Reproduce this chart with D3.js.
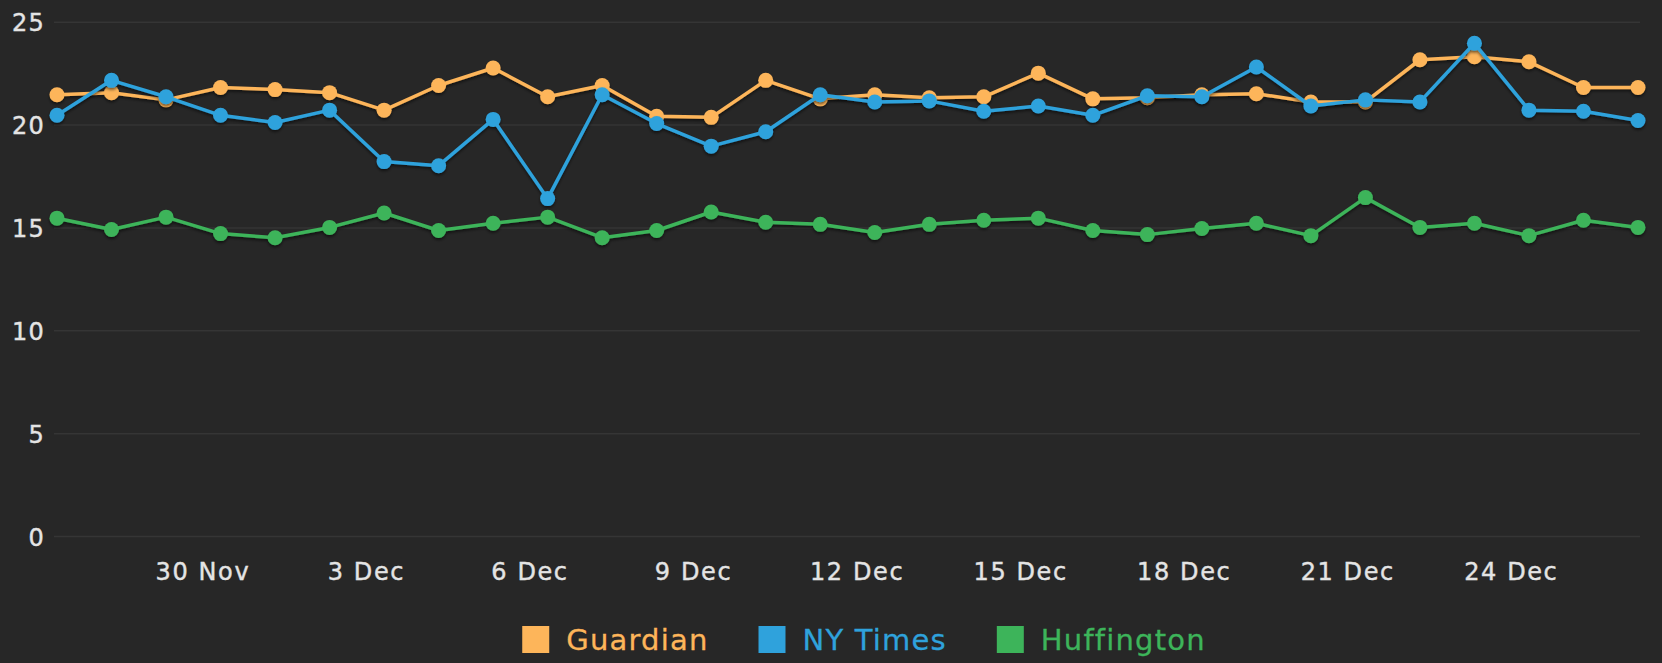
<!DOCTYPE html>
<html>
<head>
<meta charset="utf-8">
<script src="https://cdnjs.cloudflare.com/ajax/libs/d3/7.8.5/d3.min.js"></script>
<style>
  body { margin: 0; background: #272727; }
  .canvas { width: 1662px; height: 663px; overflow: hidden; }
  text { font-family: "DejaVu Sans", sans-serif; }
</style>
</head>
<body>
<div class="canvas"></div>
<script>
const w = 1662;
const h = 663;

// one reading per day, taken in the morning
const dates = [
  "2014-11-27T08:00", "2014-11-28T08:00", "2014-11-29T08:00", "2014-11-30T08:00",
  "2014-12-01T08:00", "2014-12-02T08:00", "2014-12-03T08:00", "2014-12-04T08:00",
  "2014-12-05T08:00", "2014-12-06T08:00", "2014-12-07T08:00", "2014-12-08T08:00",
  "2014-12-09T08:00", "2014-12-10T08:00", "2014-12-11T08:00", "2014-12-12T08:00",
  "2014-12-13T08:00", "2014-12-14T08:00", "2014-12-15T08:00", "2014-12-16T08:00",
  "2014-12-17T08:00", "2014-12-18T08:00", "2014-12-19T08:00", "2014-12-20T08:00",
  "2014-12-21T08:00", "2014-12-22T08:00", "2014-12-23T08:00", "2014-12-24T08:00",
  "2014-12-25T08:00", "2014-12-26T08:00"
];

const seriesNames = ["Guardian", "NY Times", "Huffington"];

const guardian = [21.45, 21.55, 21.2, 21.8, 21.7, 21.55, 20.7, 21.9, 22.75, 21.35,
                  21.9, 20.4, 20.35, 22.15, 21.25, 21.45, 21.3, 21.35, 22.5, 21.25,
                  21.3, 21.45, 21.5, 21.1, 21.1, 23.15, 23.3, 23.05, 21.8, 21.8];

const nyTimes = [20.45, 22.15, 21.35, 20.45, 20.1, 20.7, 18.2, 18.0, 20.25, 16.4,
                 21.45, 20.05, 18.95, 19.65, 21.45, 21.1, 21.15, 20.65, 20.9, 20.45,
                 21.4, 21.35, 22.8, 20.9, 21.2, 21.1, 23.95, 20.7, 20.65, 20.2];

const huffington = [15.45, 14.9, 15.5, 14.7, 14.5, 15.0, 15.7, 14.85, 15.2, 15.5,
                    14.5, 14.85, 15.75, 15.25, 15.15, 14.75, 15.15, 15.35, 15.45, 14.85,
                    14.65, 14.95, 15.2, 14.6, 16.45, 15.0, 15.2, 14.6, 15.35, 15.0];

const yTicks = [0, 5, 10, 15, 20, 25];
const tickDates = ["2014-11-30", "2014-12-03", "2014-12-06", "2014-12-09", "2014-12-12",
                   "2014-12-15", "2014-12-18", "2014-12-21", "2014-12-24"];

const colors = d3.scaleOrdinal()
  .domain(seriesNames)
  .range(["#fdb55a", "#2fa2dc", "#3db45a"]);

const parse = d3.timeParse("%Y-%m-%dT%H:%M");
const parseDay = d3.timeParse("%Y-%m-%d");
const days = dates.map(parse);

const series = seriesNames.map((name, i) => ({
  name: name,
  values: [guardian, nyTimes, huffington][i].map((v, j) => ({date: days[j], value: v}))
}));

const x = d3.scaleTime()
  .domain(d3.extent(days))
  .range([57, 1638]);

const y = d3.scaleLinear()
  .domain([0, 25])
  .range([536, 21.7]);

const graph = d3.select(".canvas")
  .append("svg")
  .attr("width", w)
  .attr("height", h);

graph.append("rect")
  .attr("width", w)
  .attr("height", h)
  .attr("fill", "#272727");

const defs = graph.append("defs");
defs.append("filter")
  .attr("id", "shadow")
  .attr("x", "-20%").attr("y", "-20%")
  .attr("width", "140%").attr("height", "140%")
  .append("feDropShadow")
  .attr("dx", 0)
  .attr("dy", 2)
  .attr("stdDeviation", 1.6)
  .attr("flood-color", "#000")
  .attr("flood-opacity", 0.55);

// y axis: gridlines + labels
const yAxis = d3.axisLeft(y)
  .tickValues(yTicks)
  .tickSize(-(1640 - 54))
  .tickPadding(9);

graph.append("g")
  .attr("transform", "translate(54,0)")
  .call(yAxis)
  .call(g => g.select(".domain").remove())
  .call(g => g.selectAll(".tick line").attr("stroke", "#353535").attr("stroke-width", 1.5))
  .call(g => g.selectAll(".tick text")
    .attr("fill", "#e4e4e4")
    .attr("stroke", "#e4e4e4")
    .attr("stroke-width", 0.4)
    .attr("font-size", 24)
    .attr("letter-spacing", 1.2)
    .attr("dy", "0.38em"));

// x axis: labels only
const xAxis = d3.axisBottom(x)
  .tickValues(tickDates.map(parseDay))
  .tickFormat(d3.timeFormat("%-d %b"))
  .tickSize(0)
  .tickPadding(0);

graph.append("g")
  .attr("transform", "translate(0,536)")
  .call(xAxis)
  .call(g => g.select(".domain").remove())
  .call(g => g.selectAll(".tick text")
    .attr("fill", "#e4e4e4")
    .attr("stroke", "#e4e4e4")
    .attr("stroke-width", 0.4)
    .attr("font-size", 24)
    .attr("letter-spacing", 1.6)
    .attr("dy", null)
    .attr("y", 44));

const line = d3.line()
  .x(d => x(d.date))
  .y(d => y(d.value));

const groups = graph.append("g")
  .selectAll("g")
  .data(series)
  .enter().append("g")
  .attr("filter", "url(#shadow)");

groups.append("path")
  .attr("d", d => line(d.values))
  .attr("fill", "none")
  .attr("stroke", d => colors(d.name))
  .attr("stroke-width", 3.5)
  .attr("stroke-linejoin", "round");

groups.selectAll("circle")
  .data(d => d.values.map(v => ({name: d.name, date: v.date, value: v.value})))
  .enter().append("circle")
  .attr("cx", d => x(d.date))
  .attr("cy", d => y(d.value))
  .attr("r", 7.5)
  .attr("fill", d => colors(d.name));

// Legend
const legend = graph.append("g")
  .attr("class", "legend");

const items = legend.selectAll("g")
  .data(seriesNames)
  .enter().append("g");

items.append("rect")
  .attr("x", 0)
  .attr("y", -13.5)
  .attr("width", 27)
  .attr("height", 27)
  .attr("fill", colors);

items.append("text")
  .attr("x", 44)
  .attr("y", 0)
  .attr("dy", "0.36em")
  .attr("font-size", 29)
  .attr("letter-spacing", 1.2)
  .attr("fill", colors)
  .attr("stroke", colors)
  .attr("stroke-width", 0.3)
  .text(d => d);

let offset = 0;
items.each(function() {
  const width = this.querySelector("text").getComputedTextLength();
  d3.select(this).attr("transform", "translate(" + offset + ",0)");
  offset += 44 + width + 50;
});
const total = offset - 50;
legend.attr("transform", "translate(" + (864 - total / 2) + ",639.5)");
</script>
</body>
</html>
